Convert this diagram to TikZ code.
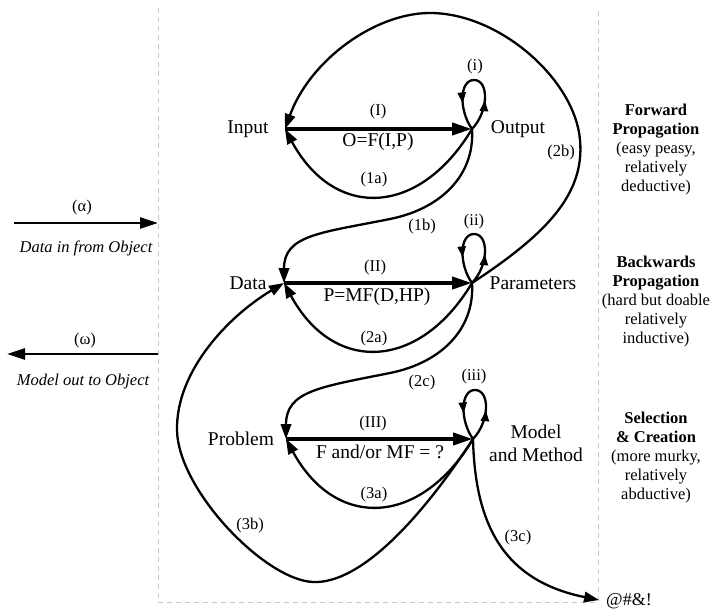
\documentclass[tikz,border=0pt]{standalone}
\usepackage{fontspec}
\setmainfont{Liberation Serif}
\usetikzlibrary{arrows.meta,decorations.markings,calc}

\newcommand\myLowArc[2]{\draw[thinarrow] (#1) .. controls ($(#1)+(-52,87)$) and ($(#2)+(50,92)$) .. (#2);}
\newcommand\mySCurve[2]{\draw[thinarrow] (#1) .. controls ($(#1)+(3,47)$) and ($(#1)+(-32,80)$) .. ($(#1)+(-82,90)$) .. controls ($(#1)+(-152,104)$) and ($(#2)+(0,-48)$) .. (#2);}
\newcommand\mySelfLoop[1]{\draw[loopmarks] (#1) .. controls ($(#1)+(17,-18)$) and ($(#1)+(17,-49)$) .. ($(#1)+(2,-49)$) .. controls ($(#1)+(-13,-49)$) and ($(#1)+(-13,-18)$) .. (#1);}

\begin{document}
\begin{tikzpicture}[x=1pt,y=-1pt,
  big/.style={font=\fontsize{19.5}{23}\selectfont, inner sep=0pt, align=center},
  small/.style={font=\fontsize{16.5}{19}\selectfont, inner sep=0pt},
  side/.style={font=\fontsize{16.5}{19}\selectfont, align=center, inner sep=0pt},
  sideit/.style={font=\fontsize{16.5}{19}\selectfont\itshape, inner sep=0pt},
  thinarrow/.style={line width=2.3pt, -{Triangle[length=15pt,width=10.5pt]}},
  edgearrow/.style={line width=2.6pt, -{Triangle[length=18pt,width=11pt]}},
  thickarrow/.style={line width=4pt, -{Triangle[length=20pt,width=12pt]}},
  loopmarks/.style={line width=2.3pt, postaction={decorate},
    decoration={markings,
      mark=at position 0.28 with {\arrow{Triangle[length=11pt,width=8pt]}},
      mark=at position 0.76 with {\arrow{Triangle[length=11pt,width=8pt]}}}},
  frame/.style={draw=black!22, line width=0.8pt, dash pattern=on 5pt off 4pt}
]
\useasboundingbox (0,0) rectangle (711,613);

% frame
\draw[frame] (158,8) -- (158,602) -- (598,602) -- (598,8);

% anchor points
\coordinate (pIn) at (285,129);
\coordinate (pOut) at (472,129);
\coordinate (pDat) at (284,283);
\coordinate (pPar) at (472,283);
\coordinate (pProb) at (286,439);
\coordinate (pMod) at (473,439);
\coordinate (pEnd) at (599,600);
\coordinate (aL) at (14,223);
\coordinate (aR) at (158,223);
\coordinate (wR) at (158,354);
\coordinate (wL) at (7,354);

% node texts
\node[big] (tIn) at (248,129) {Input};
\node[big] (tOut) at (518,129) {Output};
\node[big] (tDat) at (248,283) {Data};
\node[big] (tPar) at (533,283) {Parameters};
\node[big] (tProb) at (241,439) {Problem};
\node[big] (tMod) at (536,443) {Model\\and Method};
\node[font=\fontsize{18}{20}\selectfont, inner sep=0pt, anchor=west] (tEnd) at (606,601) {@\#\&!};

% main arrows
\draw[thickarrow] (pIn) -- (pOut);
\draw[thickarrow] (pDat) -- (pPar);
\draw[thickarrow] (pProb) -- (pMod);
\node[small] (lI) at (378,112) {(I)};
\node[big] (fI) at (378,142) {O=F(I,P)};
\node[small] (lII) at (375,268) {(II)};
\node[big] (fII) at (377,297) {P=MF(D,HP)};
\node[small] (lIII) at (373,424) {(III)};
\node[big] (fIII) at (380,452) {F and/or MF = ?};

% self loops
\mySelfLoop{pOut}
\mySelfLoop{pPar}
\mySelfLoop{pMod}
\node[small] (li) at (475,67) {(i)};
\node[small] (lii) at (474,222) {(ii)};
\node[small] (liii) at (474,377) {(iii)};

% lower arcs
\myLowArc{pOut}{pIn}
\myLowArc{pPar}{pDat}
\myLowArc{pMod}{pProb}
\node[small] (l1a) at (374,180) {(1a)};
\node[small] (l2a) at (374,339) {(2a)};
\node[small] (l3a) at (374,495) {(3a)};

% S curves
\mySCurve{pOut}{pDat}
\mySCurve{pPar}{pProb}
\node[small] (l1b) at (422,227) {(1b)};
\node[small] (l2c) at (422,383) {(2c)};

% 2b
\draw[thinarrow] (pPar) .. controls (545,235) and (585,195) .. (580,140)
  .. controls (575,80) and (500,13) .. (430,13)
  .. controls (375,13) and (310,60) .. (pIn);
\node[small] (l2b) at (561,153) {(2b)};

% 3b
\draw[thinarrow] (pMod) .. controls (420,520) and (360,584) .. (313,582)
  .. controls (265,580) and (178,490) .. (177,430)
  .. controls (176,370) and (230,315) .. (pDat);
\node[small] (l3b) at (250,526) {(3b)};

% 3c
\draw[thinarrow] (pMod) .. controls (475,520) and (500,580) .. (pEnd);
\node[small] (l3c) at (518,538) {(3c)};

% left in/out
\draw[edgearrow] (aL) -- (aR);
\node[small] (lal) at (82,208) {(α)};
\node[sideit] (tal) at (86,248) {Data in from Object};
\draw[edgearrow] (wR) -- (wL);
\node[small] (lom) at (85,341) {(ω)};
\node[sideit] (tom) at (83,382) {Model out to Object};

% right column
\node[side] (r1) at (656,150) {\textbf{Forward}\\\textbf{Propagation}\\(easy peasy,\\relatively\\deductive)};
\node[side] (r2) at (656,302) {\textbf{Backwards}\\\textbf{Propagation}\\(hard but doable\\relatively\\inductive)};
\node[side] (r3) at (656,458) {\textbf{Selection}\\\textbf{\& Creation}\\(more murky,\\relatively\\abductive)};
\end{tikzpicture}
\end{document}
